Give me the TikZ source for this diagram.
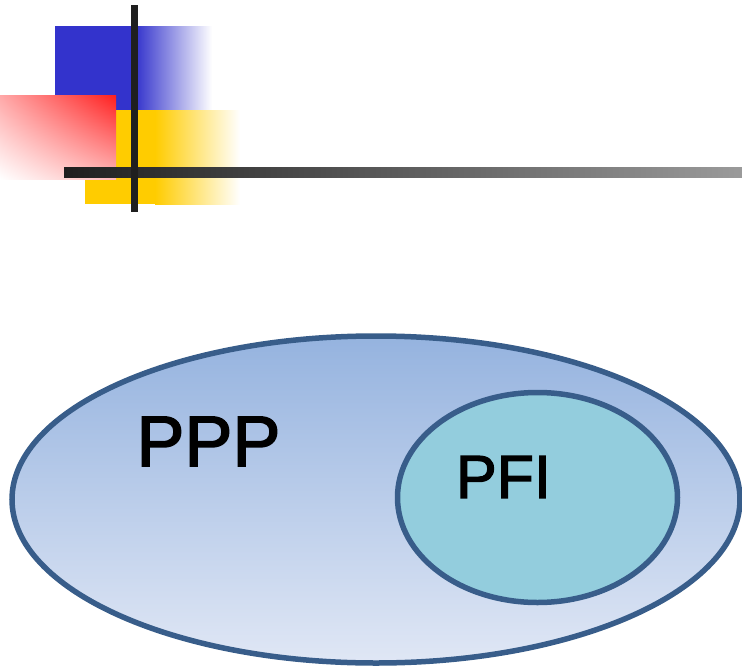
\documentclass[tikz,border=0pt]{standalone}
\usepackage{fontspec}
\setmainfont{Liberation Sans}
\newfontfamily\setlabelfont[FakeBold=2]{Liberation Sans}
\usetikzlibrary{shapes.geometric,shadings}

\definecolor{mblue}{HTML}{3333CC}
\definecolor{myellow}{HTML}{FFCC00}
\definecolor{mred}{HTML}{FF1F1F}
\definecolor{redUL}{HTML}{FFA8A8}
\definecolor{redLR}{HTML}{FFB8B8}
\definecolor{bardark}{HTML}{1F1F1F}
\definecolor{barlight}{HTML}{9A9A9A}
\definecolor{setedge}{HTML}{385D8A}
\definecolor{settop}{HTML}{95B3DF}
\definecolor{setbottom}{HTML}{E0E7F5}
\definecolor{subsetfill}{HTML}{93CDDD}

\tikzset{
  setshape/.style={ellipse, draw=setedge, line width=5.5pt, inner sep=0pt, outer sep=0pt},
  setlabel/.style={inner sep=0pt, text=black},
}

\begin{document}
\begin{tikzpicture}[x=1pt,y=-1pt]
\useasboundingbox (0,0) rectangle (742,667);

% title ornament: blue block fading to the right
\fill[mblue] (55,26) rectangle (136,110);
\shade[left color=mblue, right color=white] (135,26) rectangle (212,110);

% yellow block fading to the right
\fill[myellow] (85,110) rectangle (156,204);
\shade[left color=myellow, right color=white] (155,110) rectangle (240,204);

% red block, strongest in its upper right corner
\shade[upper left=redUL, upper right=mred, lower left=white, lower right=redLR]
  (0,95) rectangle (116,179);

% crossing bars
\shade[left color=bardark, right color=barlight] (64,167) rectangle (742,177);
\fill[bardark] (131,5) rectangle (138,212);

% the two sets
\node[setshape, top color=settop, bottom color=setbottom,
      minimum width=728pt, minimum height=327pt] (ppp-set) at (376,499.5) {};
\node[setshape, fill=subsetfill,
      minimum width=280pt, minimum height=210pt] (pfi-set) at (537.5,497.5) {};

% set labels
\node[setlabel, font=\setlabelfont\fontsize{72}{72}\selectfont] (ppp) at (208.5,441.5) {PPP};
\node[setlabel, font=\setlabelfont\fontsize{61}{61}\selectfont] (pfi) at (503.5,477) {PFI};
\end{tikzpicture}
\end{document}
